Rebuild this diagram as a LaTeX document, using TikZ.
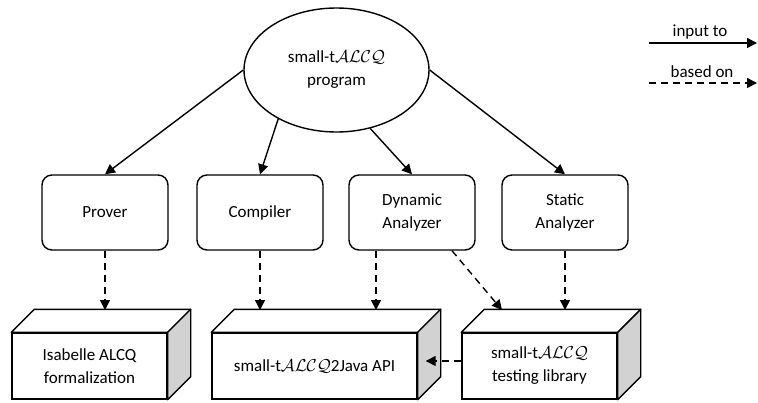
\documentclass[tikz,border=0pt]{standalone}
\usepackage{fontspec}
\setmainfont{Carlito}
\usetikzlibrary{arrows.meta,calc,shapes.geometric}
\tikzset{
  every node/.style={font=\fontsize{17}{23}\selectfont, align=center},
  lw/.style={line width=1.4pt},
  tip/.style={-{Triangle[length=10pt,width=10pt]}},
  inarrow/.style={lw, tip},
  basedarrow/.style={lw, tip, dash pattern=on 7pt off 5pt},
  proc/.style={draw, lw, rounded corners=10pt, minimum width=126pt, minimum height=75pt, inner sep=0pt},
  prog/.style={draw, lw, ellipse, minimum width=185pt, minimum height=124pt, inner sep=0pt},
  cubefront/.style={draw, lw, fill=white, minimum height=66pt, inner sep=0pt},
  cubetop/.style={draw, lw, fill=white, line join=round},
  cubeside/.style={draw, lw, fill=sidegray, line join=round}
}
\definecolor{sidegray}{RGB}{210,210,210}
\newcommand{\ALCQ}{\ensuremath{\mathcal{ALCQ}}}
\begin{document}
\begin{tikzpicture}[x=1pt,y=-1pt]
\useasboundingbox (0,0) rectangle (758,402);
% program
\node[prog] (prog) at (336.5,70) {small-t\ALCQ\\program};
% process boxes
\node[proc] (prover) at (105,212.5) {Prover};
\node[proc] (comp) at (260,212.5) {Compiler};
\node[proc] (dyn) at (412,212.5) {Dynamic\\Analyzer};
\node[proc] (stat) at (565,212.5) {Static\\Analyzer};
% cubes
\def\dep{23}
\node[cubefront, minimum width=155pt] (isa) at (89.5,366) {Isabelle ALCQ\\formalization};
\node[cubefront, minimum width=205pt] (java) at (314.5,366) {small-t\ALCQ2Java API};
\node[cubefront, minimum width=155pt] (test) at (539.5,366) {small-t\ALCQ\\testing library};
\foreach \c in {isa,java,test}{
  \draw[cubetop] (\c.north west) -- ++(\dep,-\dep) -- ($(\c.north east)+(\dep,-\dep)$) -- (\c.north east) -- cycle;
  \draw[cubeside] (\c.north east) -- ++(\dep,-\dep) -- ($(\c.south east)+(\dep,-\dep)$) -- (\c.south east) -- cycle;
}
\coordinate (toprow) at (0,310);
% input-to arrows
\draw[inarrow] (prog.west) -- (prover.north);
\draw[inarrow] (prog.220) -- (comp.north);
\draw[inarrow] (prog.300) -- (dyn.north);
\draw[inarrow] (prog.east) -- (stat.north);
% based-on arrows
\draw[basedarrow] (prover.south) -- (prover.south |- toprow);
\draw[basedarrow] (comp.south) -- (comp.south |- toprow);
\coordinate (dynA) at ($(dyn.south)+(-36,0)$);
\coordinate (dynB) at ($(dyn.south)+(40,0)$);
\coordinate (testA) at (502,310);
\draw[basedarrow] (dynA) -- (dynA |- toprow);
\draw[basedarrow] (dynB) -- (testA);
\draw[basedarrow] (stat.south) -- (stat.south |- toprow);
\coordinate (javaSide) at ($(java.east)+(8,-5)$);
\draw[basedarrow] ($(test.west)+(0,-5)$) -- (javaSide);
% legend
\node (lin) at (700,32) {input to};
\coordinate (l1a) at (649,43);
\coordinate (l1b) at (757,43);
\draw[inarrow] (l1a) -- (l1b);
\node (lbased) at (702,72) {based on};
\coordinate (l2a) at (649,83);
\coordinate (l2b) at (757,83);
\draw[basedarrow] (l2a) -- (l2b);
\end{tikzpicture}
\end{document}
